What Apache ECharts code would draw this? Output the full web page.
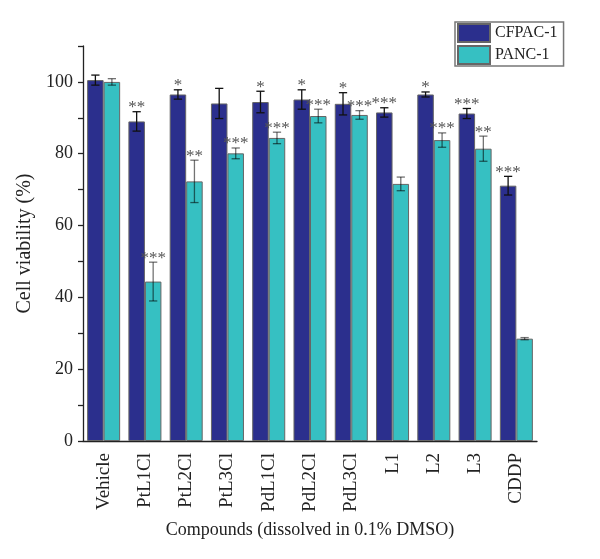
<!DOCTYPE html>
<html>
<head>
<meta charset="utf-8">
<script src="https://cdn.jsdelivr.net/npm/echarts@6/dist/echarts.min.js"></script>
<style>
  html, body { margin: 0; padding: 0; background: #fff; }
  #chart { width: 600px; height: 559px; }
</style>
</head>
<body>
<div id="chart"></div>
<script>
  const categories = ['Vehicle', 'PtL1Cl', 'PtL2Cl', 'PtL3Cl', 'PdL1Cl', 'PdL2Cl', 'PdL3Cl', 'L1', 'L2', 'L3', 'CDDP']
  const cfpacMean = [100.5, 89.0, 96.5, 94.0, 94.4, 95.1, 93.9, 91.5, 96.5, 91.2, 71.1]
  const cfpacErr = [1.4, 2.7, 1.3, 4.2, 3.0, 2.7, 3.1, 1.3, 0.7, 1.4, 2.6]
  const cfpacSig = ['', '**', '*', '', '*', '*', '*', '***', '*', '***', '***']
  const pancMean = [100.0, 44.4, 72.3, 80.1, 84.4, 90.5, 90.8, 71.6, 83.8, 81.4, 28.5]
  const pancErr = [0.9, 5.4, 5.9, 1.5, 1.6, 1.9, 1.2, 1.9, 2.0, 3.5, 0.3]
  const pancSig = ['', '***', '**', '***', '***', '***', '***', '', '***', '**', '']

  const font = '"Liberation Serif", "DejaVu Serif", serif'
  const color = ['#2b2f8d', '#36c0c2']

  // error bars + significance stars, positioned over each bar of a group
  const errorSeries = (name, mean, err, sig, offset, stroke) => ({
    name: name + ' err',
    type: 'custom',
    z: 5,
    silent: true,
    data: categories.map((c, i) => [i, mean[i], err[i]]),
    encode: { x: 0, y: 1 },
    renderItem: (params, api) => {
      const i = api.value(0)
      const m = api.value(1)
      const e = api.value(2)
      const band = api.size([1, 0])[0]
      const x = api.coord([i, m])[0] + offset * band
      const hi = api.coord([i, m + e])[1]
      const lo = api.coord([i, m - e])[1]
      const cap = band * 0.1
      const style = { stroke, lineWidth: 1.3 }
      return {
        type: 'group',
        children: [
          { type: 'line', shape: { x1: x, y1: hi, x2: x, y2: lo }, style },
          { type: 'line', shape: { x1: x - cap, y1: hi, x2: x + cap, y2: hi }, style },
          { type: 'line', shape: { x1: x - cap, y1: lo, x2: x + cap, y2: lo }, style },
          {
            type: 'text',
            style: {
              text: sig[params.dataIndex],
              x: x,
              y: hi - 4,
              align: 'center',
              verticalAlign: 'middle',
              fill: '#555',
              font: '17px ' + font,
            },
          },
        ],
      }
    },
  })

  const chart = echarts.init(document.getElementById('chart'))
  chart.setOption({
    animation: false,
    color,
    textStyle: { fontFamily: font },
    grid: { left: 83, right: 63, top: 46, bottom: 118 },
    legend: {
      orient: 'vertical',
      left: 455,
      top: 22,
      itemWidth: 32,
      itemHeight: 18,
      itemGap: 2,
      padding: [1, 6, 1, 2],
      borderColor: '#777',
      borderWidth: 1.5,
      icon: 'rect',
      data: ['CFPAC-1', 'PANC-1'],
      textStyle: { fontFamily: font, fontSize: 16, color: '#222' },
    },
    xAxis: {
      type: 'category',
      data: categories,
      name: 'Compounds (dissolved in 0.1% DMSO)',
      nameLocation: 'middle',
      nameGap: 80,
      nameTextStyle: { fontFamily: font, fontSize: 18, color: '#222' },
      axisLine: { lineStyle: { color: '#222', width: 1.3 } },
      axisTick: { alignWithLabel: true, length: 8, lineStyle: { color: '#222', width: 1.3 } },
      axisLabel: { rotate: 90, margin: 12, fontFamily: font, fontSize: 19, color: '#222' },
    },
    yAxis: {
      type: 'value',
      min: 0,
      max: 110,
      interval: 10,
      name: 'Cell viability (%)',
      nameLocation: 'middle',
      nameGap: 37,
      nameTextStyle: { fontFamily: font, fontSize: 20, color: '#222' },
      axisLine: { show: true, lineStyle: { color: '#222', width: 1.3 } },
      axisTick: { show: true, length: 5, lineStyle: { color: '#222', width: 1.3 } },
      splitLine: { show: false },
      axisLabel: {
        margin: 10,
        fontFamily: font,
        fontSize: 18,
        color: '#222',
        formatter: (v) => (v % 20 === 0 && v <= 100 ? String(v) : ''),
      },
    },
    series: [
      {
        name: 'CFPAC-1',
        type: 'bar',
        data: cfpacMean,
        barGap: '0%',
        barCategoryGap: '20%',
        itemStyle: { color: color[0], borderColor: '#666', borderWidth: 1 },
      },
      {
        name: 'PANC-1',
        type: 'bar',
        data: pancMean,
        barGap: '0%',
        barCategoryGap: '20%',
        itemStyle: { color: color[1], borderColor: '#666', borderWidth: 1 },
      },
      errorSeries('CFPAC-1', cfpacMean, cfpacErr, cfpacSig, -0.2, '#111'),
      errorSeries('PANC-1', pancMean, pancErr, pancSig, 0.2, 'rgba(0,0,0,0.55)'),
    ],
  })
  window.addEventListener('resize', function () {
    chart && chart.resize()
  })
</script>
</body>
</html>
